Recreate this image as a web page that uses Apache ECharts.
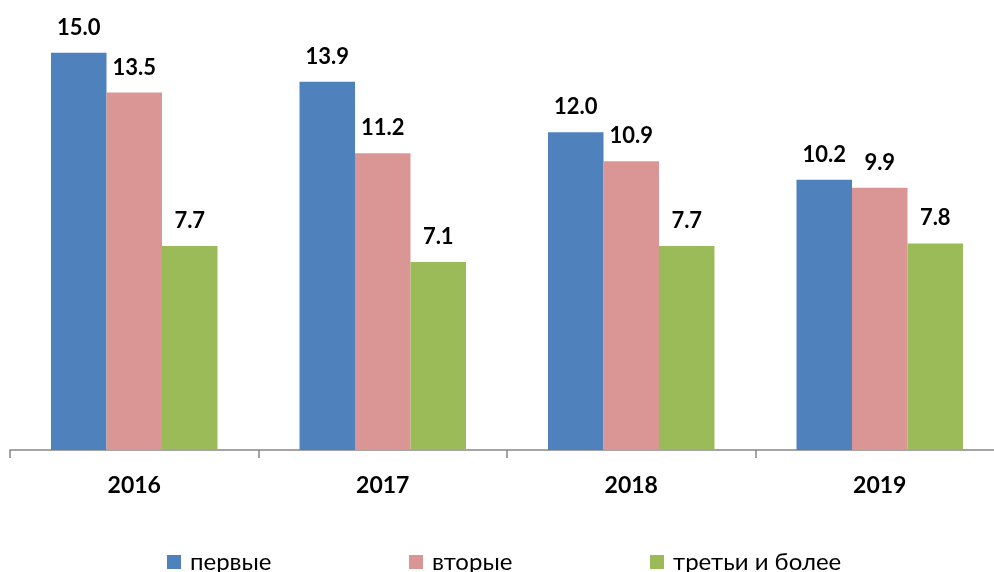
<!DOCTYPE html>
<html>
<head>
    <meta charset="utf-8">
    <title>ECharts</title>
    <script src="https://cdn.jsdelivr.net/npm/echarts@6/dist/echarts.min.js"></script>
</head>
<body style="margin:0;overflow:hidden">
    <!-- контейнер шире окна: последняя категория уходит за правый край, как в оригинале -->
    <div id="main" style="width: 1004px;height:572px;"></div>
    <script type="text/javascript">
        var years = ['2016', '2017', '2018', '2019'];
        var seriesNames = ['первые', 'вторые', 'третьи и более'];
        var first = [15.0, 13.9, 12.0, 10.2];
        var second = [13.5, 11.2, 10.9, 9.9];
        var third = [7.7, 7.1, 7.7, 7.8];
        var colors = ['#4F81BD', '#D99694', '#9BBB59'];

        var myChart = echarts.init(document.getElementById('main'));

        var labelStyle = {
            show: true,
            position: 'top',
            distance: 14,
            color: '#000',
            fontFamily: 'Lato',
            fontWeight: 'bold',
            fontSize: 22,
            formatter: function (p) { return p.value.toFixed(1); }
        };

        var makeSeries = function (name, data, color) {
            return {
                name: name,
                type: 'bar',
                data: data,
                barGap: '0%',
                barCategoryGap: '33%',
                itemStyle: { color: color },
                label: labelStyle
            };
        };

        // одна легенда на каждую серию, чтобы поставить их как в оригинале
        var legendLefts = [162, 404, 645];
        var legends = seriesNames.map(function (name, i) {
            return {
                top: 545,
                left: legendLefts[i],
                itemWidth: 14,
                itemHeight: 14,
                icon: 'rect',
                textStyle: { fontFamily: 'Lato', fontSize: 24, color: '#000', padding: [0, 0, 0, 4] },
                data: [name]
            };
        });

        myChart.setOption({
            animation: false,
            color: colors,
            grid: { left: 10, right: 0, top: 52.7, bottom: 122 },
            legend: legends,
            xAxis: {
                type: 'category',
                data: years,
                axisLine: { lineStyle: { color: '#868686', width: 1.5 } },
                axisTick: { show: true, length: 8, lineStyle: { color: '#868686', width: 1.5 } },
                axisLabel: {
                    margin: 24,
                    color: '#000',
                    fontFamily: 'Lato',
                    fontWeight: 'bold',
                    fontSize: 23
                }
            },
            yAxis: {
                type: 'value',
                min: 0,
                max: 15,
                show: false,
                splitLine: { show: false }
            },
            series: [
                makeSeries(seriesNames[0], first, colors[0]),
                makeSeries(seriesNames[1], second, colors[1]),
                makeSeries(seriesNames[2], third, colors[2])
            ]
        });
    </script>
</body>
</html>
